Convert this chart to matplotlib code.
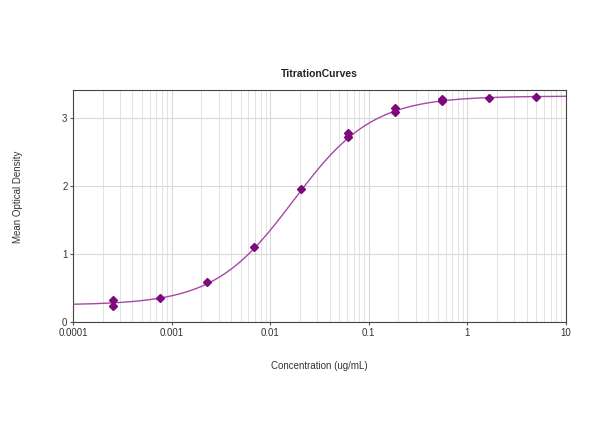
import matplotlib
matplotlib.use('Agg')
import matplotlib.pyplot as plt
import numpy as np
from matplotlib.ticker import FixedLocator, FixedFormatter, LogLocator, NullFormatter

# 3-fold dilution series (ug/mL), duplicate wells
conc = [0.000254, 0.000254, 0.000762, 0.00229, 0.00686, 0.0206,
        0.0617, 0.0617, 0.185, 0.185, 0.556, 0.556, 1.667, 5.0]
od = [0.32, 0.24, 0.35, 0.59, 1.10, 1.96,
      2.79, 2.72, 3.15, 3.10, 3.29, 3.26, 3.30, 3.32]

# 4PL fit parameters
bottom, top, ec50, hill = 0.25, 3.33, 0.0172, 1.08

def four_pl(x):
    return bottom + (top - bottom) / (1 + (ec50 / x) ** hill)

plt.rcParams['font.family'] = 'Liberation Sans'
fig = plt.figure(figsize=(6, 4.47), dpi=100)
ax = fig.add_axes([0.1217, 0.2796, 0.8216, 0.5191])

xs = np.logspace(-4, 1, 400)
ax.plot(xs, four_pl(xs), color='#a349a4', linewidth=1.0, zorder=3)
ax.plot(conc, od, linestyle='none', marker='D', markersize=4,
        color='#7d0a7d', zorder=4)

ax.set_xscale('log')
ax.set_xlim(1e-4, 10)
ax.set_ylim(0, 3.42)

ax.xaxis.set_major_locator(FixedLocator([1e-4, 1e-3, 1e-2, 1e-1, 1, 10]))
ax.xaxis.set_major_formatter(FixedFormatter(['0.0001', '0.001', '0.01', '0.1', '1', '10']))
ax.xaxis.set_minor_locator(LogLocator(base=10, subs=np.arange(2, 10)))
ax.xaxis.set_minor_formatter(NullFormatter())
ax.set_yticks([0, 1, 2, 3])

ax.grid(True, which='major', color='#d9d9d9', linewidth=0.8)
ax.grid(True, which='minor', axis='x', color='#e3e3e3', linewidth=0.7)
ax.set_axisbelow(True)

ax.tick_params(axis='both', which='major', labelsize=7, length=2, color='#555555', labelcolor='#333333', pad=2)
ax.tick_params(axis='both', which='minor', length=0)
for s in ax.spines.values():
    s.set_color('#444444')
    s.set_linewidth(0.8)

ax.set_title('TitrationCurves', fontsize=7.5, fontweight='bold', pad=9, color='#222222')
fig.text(0.5 * (0.1217 + 0.9433), 1 - 366 / 447, 'Concentration (ug/mL)', ha='center', va='center',
         fontsize=7, color='#333333')
fig.text(18 / 600, 1 - 197 / 447, 'Mean Optical Density', ha='center', va='center',
         rotation=90, fontsize=7, color='#333333')

fig.savefig('out.png', dpi=100)
